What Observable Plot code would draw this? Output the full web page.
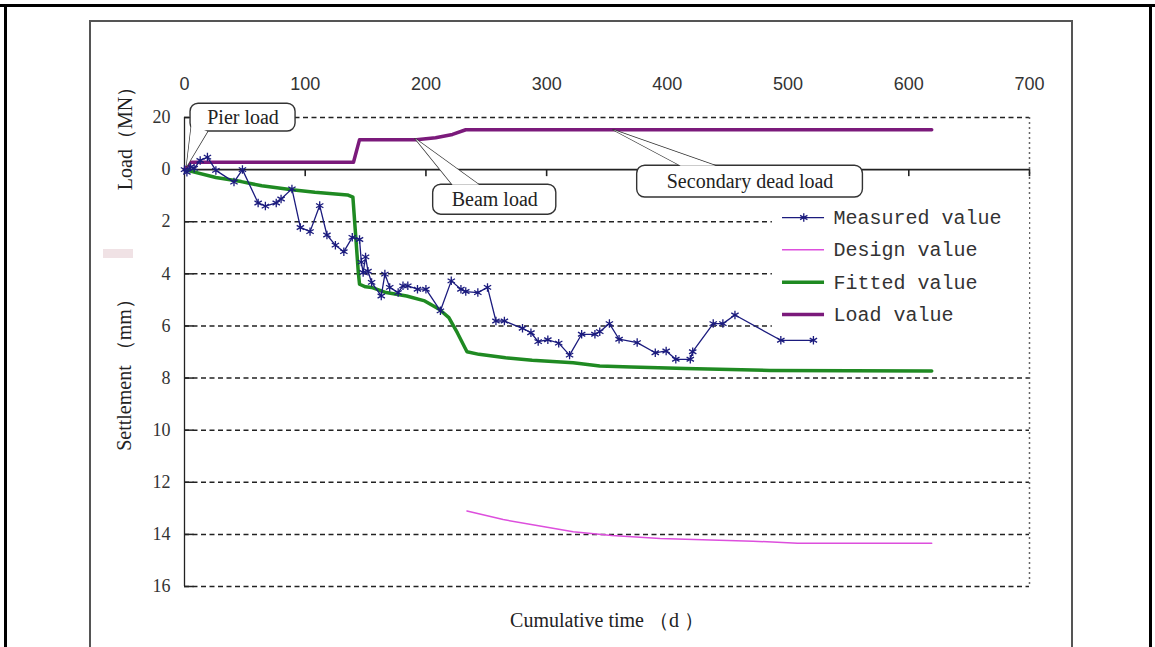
<!DOCTYPE html>
<html><head><meta charset="utf-8">
<script src="https://cdn.jsdelivr.net/npm/d3@7"></script>
<script src="https://cdn.jsdelivr.net/npm/@observablehq/plot@0.6"></script>
<style>
html,body{margin:0;padding:0;background:#fff;}
#wrap{position:relative;width:1155px;height:647px;overflow:hidden;background:#fff;}
.f{position:absolute;}
#wrap svg{position:absolute;left:0;top:0;}
</style></head><body><div id="wrap">
<div class="f" style="left:0;top:4px;width:1155px;height:2.5px;background:#000"></div>
<div class="f" style="left:4px;top:4px;width:2.5px;height:643px;background:#000"></div>
<div class="f" style="left:1149px;top:4px;width:2.5px;height:643px;background:#000"></div>
<div class="f" style="left:88.5px;top:20px;width:2px;height:627px;background:#555"></div>
<div class="f" style="left:88.5px;top:20px;width:984px;height:2px;background:#555"></div>
<div class="f" style="left:1071px;top:20px;width:2px;height:627px;background:#555"></div>
<div class="f" style="left:103px;top:249px;width:30px;height:9px;background:#f0e2e5"></div>
</div>
<script>
// ---- data ----
const measuredDays = [0,2,5,8,13,19,26,41,48,61,67,76,80,89,96,104,112,118,125,132,139,145,146.5,148,150,152,155,163,166,170,177,181,185,193,200,212,221,229,233,243,251,258,265,280,287,293,301,310,319,329,340,344,352,360,375,390,399,407,419,421,438,446,456,494,521];
const measuredValues = [0,0.1,-0.1,-0.05,-0.35,-0.48,0.03,0.48,0.0,1.28,1.4,1.28,1.13,0.74,2.22,2.38,1.38,2.51,2.9,3.15,2.6,2.68,3.55,3.95,3.35,3.9,4.33,4.85,4.01,4.52,4.72,4.46,4.46,4.59,4.59,5.42,4.27,4.59,4.68,4.72,4.52,5.81,5.81,6.09,6.26,6.6,6.53,6.66,7.12,6.32,6.32,6.22,5.91,6.51,6.64,7.03,6.96,7.28,7.28,6.99,5.91,5.91,5.58,6.55,6.55];
const fittedDays = [0,26,47,64,89,108,135,139.5,142,144,145,150,155,167,184,199,211,219,226,234,244,266,288,322,344,370,415,485,619];
const fittedValues = [0,0.3,0.46,0.62,0.77,0.87,0.97,1.06,2.67,3.95,4.4,4.5,4.52,4.72,4.85,5.04,5.36,5.68,6.26,6.99,7.09,7.22,7.32,7.41,7.54,7.58,7.63,7.71,7.73];
const designDays = [234,264,292,322,354,394,471,508,619];
const designValues = [13.1,13.43,13.66,13.9,14.04,14.16,14.26,14.34,14.34];
const loadDays = [0,5,140,145,192,208,222,233,619];
const loadValues = [0,2.8,2.8,11.5,11.5,12.2,13.5,15.3,15.3]; // MN
const xTickValues = [0,100,200,300,400,500,600,700];
const yTickValues = [-2,0,2,4,6,8,10,12,14,16];
const yTickLabels = ["20","0","2","4","6","8","10","12","14","16"];
const seriesNames = ["Measured value","Design value","Fitted value","Load value"];
const calloutLabels = ["Pier load","Beam load","Secondary dead load"];
// callout boxes (data units: day / mm) and pointer tips
const calloutBoxes = [
  {x1:5,x2:92,y1:-2.53,y2:-1.46},
  {x1:206,x2:308,y1:0.58,y2:1.73},
  {x1:375,x2:562,y1:-0.15,y2:1.07}
];
const calloutPointers = [
  [[5.8,-1.73],[1.7,-0.12],[19,-1.46]],
  [[222,0.58],[191,-1.19],[244,0.58]],
  [[411,-0.15],[355,-1.53],[440,-0.15]]
];

// ---- build ----
const LOAD_PER_MM = 10; // 20 MN spans 2 mm on the shared vertical scale
const measured = measuredDays.map((d,i)=>({day:d, v:measuredValues[i]}));
const fitted = fittedDays.map((d,i)=>({day:d, v:fittedValues[i]}));
const design = designDays.map((d,i)=>({day:d, v:designValues[i]}));
const load = loadDays.map((d,i)=>({day:d, v:-loadValues[i]/LOAD_PER_MM}));
const boxes = calloutBoxes.map((b,i)=>({...b, label:calloutLabels[i]}));
const wedges = calloutPointers.flatMap((pts,k)=>pts.map(p=>({id:k, x:p[0], y:p[1]})));

const navy="#1b1b7e", pink="#dd4fdd", green="#1f8a22", purple="#7b1a7b", ink="#222";
const serif="Liberation Serif, Times New Roman, serif";
const gridVals = yTickValues.filter(v=>v!==0);

const legendColors=[navy,pink,green,purple];
const legendWidths=[1.3,1.5,3.5,3.5];
const legendY = i => 1.84 + i*1.24;

const marks = [
  Plot.ruleY(gridVals, {x1:0, x2:700, stroke:ink, strokeWidth:1.5, strokeDasharray:"5,3.5"}),
  Plot.ruleY(gridVals, {x1:0, x2:8, stroke:ink, strokeWidth:1.5}),
  Plot.ruleX([700], {y1:-2, y2:16, stroke:"#666", strokeWidth:1.5, strokeDasharray:"2,3"}),
  Plot.ruleX([0], {y1:-2, y2:16, stroke:ink, strokeWidth:1.3}),
  Plot.ruleY([0], {x1:0, x2:700, stroke:ink, strokeWidth:1.6}),
  Plot.ruleX(xTickValues.slice(1), {y1:0, y2:0.27, stroke:ink, strokeWidth:1.6}),
  Plot.rect([0], {x1:487, x2:700, y1:1.04, y2:6.25, fill:"white"}),
  Plot.line(design, {x:"day", y:"v", stroke:pink, strokeWidth:1.5}),
  Plot.line(fitted, {x:"day", y:"v", stroke:green, strokeWidth:3.5}),
  Plot.line(load, {x:"day", y:"v", stroke:purple, strokeWidth:3.5}),
  Plot.line(measured, {x:"day", y:"v", stroke:navy, strokeWidth:1.3}),
  Plot.dot(measured, {x:"day", y:"v", symbol:"asterisk", r:4, stroke:navy, strokeWidth:1.3}),
  // callouts
  Plot.line(wedges, {x:"x", y:"y", z:"id", fill:"white", stroke:"#333", strokeWidth:1.4}),
  Plot.rect(boxes, {x1:"x1", x2:"x2", y1:"y1", y2:"y2", rx:8, fill:"white", stroke:"#333", strokeWidth:1.4}),
  Plot.line(wedges, {x:"x", y:"y", z:"id", fill:"white", stroke:null}),
  Plot.text(boxes, {x:d=>(d.x1+d.x2)/2, y:d=>(d.y1+d.y2)/2, text:"label", fontSize:20, fontFamily:serif, fill:ink}),
  // tick labels
  Plot.text(xTickValues, {x:d=>d, y:-2, dy:-33, text:d=>String(d), fontSize:18, fontFamily:"Liberation Sans, Arial, sans-serif", fill:"#333"}),
  Plot.text(yTickValues, {x:0, y:d=>d, dx:-14, text:(d,i)=>yTickLabels[i], textAnchor:"end", fontSize:18, fontFamily:serif, fill:"#333"}),
  // titles
  Plot.text(["Load（MN）"], {frameAnchor:"top-left", dx:-59, dy:16, rotate:-90, textAnchor:"middle", lineAnchor:"middle", fontSize:20, fontFamily:serif, fill:ink}),
  Plot.text(["Settlement （mm）"], {frameAnchor:"left", dx:-60, dy:18, rotate:-90, textAnchor:"middle", lineAnchor:"middle", fontSize:20, fontFamily:serif, fill:ink}),
  Plot.text(["Cumulative time （d ）"], {frameAnchor:"bottom", dy:34, textAnchor:"middle", lineAnchor:"middle", fontSize:20, fontFamily:serif, fill:ink})
];
seriesNames.forEach((name,i)=>{
  marks.push(Plot.ruleY([legendY(i)], {x1:495.4, x2:530.2, stroke:legendColors[i], strokeWidth:legendWidths[i]}));
  if(i===0) marks.push(Plot.dot([0], {x:513, y:legendY(i), symbol:"asterisk", r:4, stroke:navy, strokeWidth:1.3}));
  marks.push(Plot.text([name], {x:537.7, y:legendY(i), textAnchor:"start", fontSize:20, fontFamily:"Liberation Mono, monospace", fill:"#333"}));
});

const chart = Plot.plot({
  width:1155, height:647,
  marginLeft:184, marginRight:126, marginTop:117, marginBottom:61,
  x:{domain:[0,700], axis:null},
  y:{domain:[-2,16], reverse:true, axis:null},
  style:{background:"transparent", overflow:"visible"},
  marks
});
document.getElementById("wrap").appendChild(chart);
</script></body></html>
